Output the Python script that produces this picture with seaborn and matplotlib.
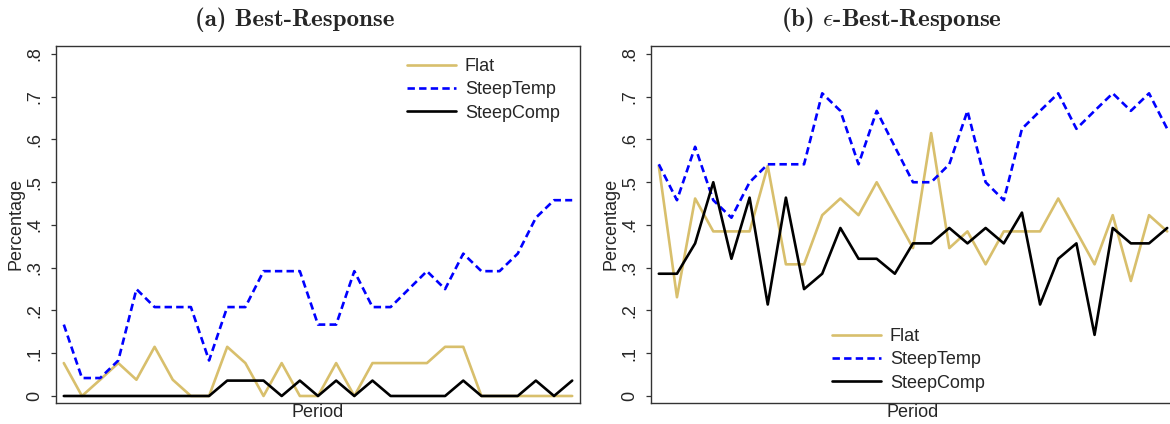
import matplotlib
matplotlib.use("Agg")
import matplotlib.pyplot as plt
import seaborn as sns
import pandas as pd
import numpy as np
from matplotlib.lines import Line2D
from matplotlib.ticker import FixedLocator

# ---------------- data ----------------
periods = list(range(1, 30))
series_names = ["Flat", "SteepTemp", "SteepComp"]

br_flat = [0.077, 0, 0.038, 0.077, 0.038, 0.115, 0.038, 0, 0, 0.115, 0.077, 0, 0.077, 0, 0,
           0.077, 0, 0.077, 0.077, 0.077, 0.077, 0.115, 0.115, 0, 0, 0, 0, 0, 0]
br_steeptemp = [0.167, 0.042, 0.042, 0.083, 0.25, 0.208, 0.208, 0.208, 0.083, 0.208, 0.208,
                0.292, 0.292, 0.292, 0.167, 0.167, 0.292, 0.208, 0.208, 0.25, 0.292, 0.25,
                0.333, 0.292, 0.292, 0.333, 0.417, 0.458, 0.458]
br_steepcomp = [0, 0, 0, 0, 0, 0, 0, 0, 0, 0.036, 0.036, 0.036, 0, 0.036, 0, 0.036, 0, 0.036,
                0, 0, 0, 0, 0.036, 0, 0, 0, 0.036, 0, 0.036]

ebr_flat = [0.538, 0.231, 0.462, 0.385, 0.385, 0.385, 0.538, 0.308, 0.308, 0.423, 0.462, 0.423,
            0.5, 0.423, 0.346, 0.615, 0.346, 0.385, 0.308, 0.385, 0.385, 0.385, 0.462, 0.385,
            0.308, 0.423, 0.269, 0.423, 0.385]
ebr_steeptemp = [0.542, 0.458, 0.583, 0.458, 0.417, 0.5, 0.542, 0.542, 0.542, 0.708, 0.667,
                 0.542, 0.667, 0.583, 0.5, 0.5, 0.542, 0.667, 0.5, 0.458, 0.625, 0.667, 0.708,
                 0.625, 0.667, 0.708, 0.667, 0.708, 0.625]
ebr_steepcomp = [0.286, 0.286, 0.357, 0.5, 0.321, 0.464, 0.214, 0.464, 0.25, 0.286, 0.393,
                 0.321, 0.321, 0.286, 0.357, 0.357, 0.393, 0.357, 0.393, 0.357, 0.429, 0.214,
                 0.321, 0.357, 0.143, 0.393, 0.357, 0.357, 0.393]

ytick_values = [0, 0.1, 0.2, 0.3, 0.4, 0.5, 0.6, 0.7, 0.8]
ytick_labels = ["0", ".1", ".2", ".3", ".4", ".5", ".6", ".7", ".8"]
titles = [r"(a) Best-Response", r"(b) $\epsilon$-Best-Response"]

# ---------------- style ----------------
sns.set_theme(style="white")
plt.rcParams["font.family"] = ["Liberation Sans", "DejaVu Sans"]
plt.rcParams["mathtext.fontset"] = "cm"

colors = {"Flat": "#D8BF6C", "SteepTemp": "#0000FF", "SteepComp": "#000000"}
dash_map = {"Flat": "", "SteepTemp": (2.8, 1.6), "SteepComp": ""}
LW = 1.9
FS = 13

W, H = 1170, 424
fig = plt.figure(figsize=(W / 100, H / 100), dpi=100)

def px_rect(x0, x1, ytop, ybot):
    return [x0 / W, 1 - ybot / H, (x1 - x0) / W, (ybot - ytop) / H]

ax1 = fig.add_axes(px_rect(56, 580, 45.7, 402.7))
ax2 = fig.add_axes(px_rect(651, 1175, 45.7, 402.7))

def make_df(f, t, c):
    return pd.DataFrame({
        "Period": periods * 3,
        "Percentage": list(f) + list(t) + list(c),
        "Series": ["Flat"] * len(f) + ["SteepTemp"] * len(t) + ["SteepComp"] * len(c),
    })

panels = [
    (ax1, make_df(br_flat, br_steeptemp, br_steepcomp)),
    (ax2, make_df(ebr_flat, ebr_steeptemp, ebr_steepcomp)),
]

for ax, df in panels:
    sns.lineplot(data=df, x="Period", y="Percentage", hue="Series", style="Series",
                 hue_order=series_names, style_order=series_names,
                 palette=colors, dashes=dash_map, linewidth=LW, legend=False,
                 ax=ax, estimator=None, sort=False)
    ax.set_xlim(1 - 0.43, 29 + 0.43)
    ax.set_ylim(-0.0157, 0.8194)
    ax.yaxis.set_major_locator(FixedLocator(ytick_values))
    ax.set_yticklabels(ytick_labels)
    ax.set_xticks([])
    ax.tick_params(axis="y", which="major", direction="out", length=3.6, width=0.9,
                   color="#333333", labelsize=FS, pad=5.5, left=True, labelrotation=90)
    for lab in ax.get_yticklabels():
        lab.set_verticalalignment("center")
    for sp in ax.spines.values():
        sp.set_color("#333333")
        sp.set_linewidth(1.0)
    ax.set_ylabel("Percentage", fontsize=FS)
    ax.yaxis.set_label_coords(-0.061, 0.5)
    ax.set_xlabel("Period", fontsize=FS, labelpad=1)
    ax.grid(False)

handles = [
    Line2D([], [], color=colors["Flat"], lw=LW),
    Line2D([], [], color=colors["SteepTemp"], lw=LW, dashes=(2.8, 1.6)),
    Line2D([], [], color=colors["SteepComp"], lw=LW),
]

leg_kw = dict(frameon=False, fontsize=FS, handlelength=2.7, handletextpad=0.5,
              labelspacing=0.35, borderpad=0, borderaxespad=0, loc="upper left",
              bbox_transform=fig.transFigure)
fig.legend(handles, series_names, bbox_to_anchor=(407 / W, 1 - 58 / H), **leg_kw)
fig.legend(handles, series_names, bbox_to_anchor=(832 / W, 1 - 328 / H), **leg_kw)

fig.text(295 / W, 1 - 26 / H, titles[0], ha="center", va="baseline",
         fontsize=18, family="cmb10")
fig.text(891 / W, 1 - 26 / H, titles[1], ha="center", va="baseline",
         fontsize=18, family="cmb10")

fig.savefig("out.png", dpi=100)
